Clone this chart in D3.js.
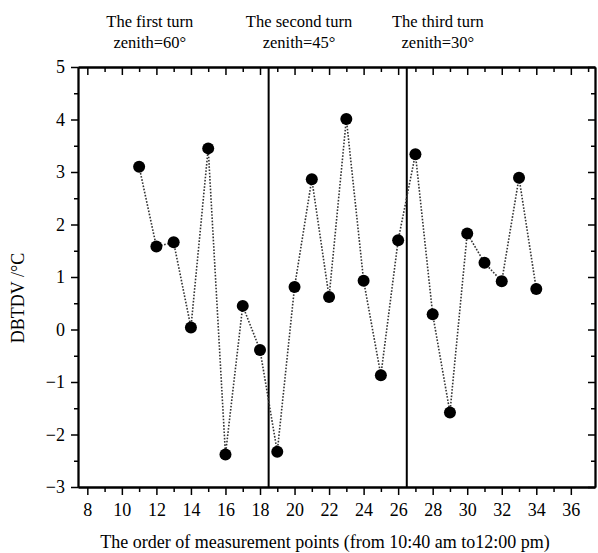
<!DOCTYPE html>
<html>
<head>
<meta charset="utf-8">
<script src="https://cdn.jsdelivr.net/npm/d3@7"></script>
<style>
  body { margin: 0; background: #fff; }
  svg { font-family: "Liberation Serif", "Times New Roman", serif; }
</style>
</head>
<body>
<script>
const order = [11, 12, 13, 14, 15, 16, 17, 18, 19, 20, 21, 22, 23, 24, 25, 26, 27, 28, 29, 30, 31, 32, 33, 34];
const dbtdv = [3.10, 1.58, 1.66, 0.04, 3.45, -2.38, 0.45, -0.39, -2.33, 0.81, 2.86, 0.62, 4.01, 0.93, -0.87, 1.70, 3.34, 0.29, -1.58, 1.83, 1.27, 0.92, 2.89, 0.77];

// Turn separators and headers
const separators = [18.5, 26.5];
const turnTitles = ["The first turn", "The second turn", "The third turn"];
const turnZenith = ["zenith=60°", "zenith=45°", "zenith=30°"];
const turnCenters = [11.62, 20.26, 28.3];

const xTicks = d3.range(8, 37, 2);
const yTicks = d3.range(-3, 6, 1);

const width = 598, height = 553;
const margin = { top: 67, right: 3, bottom: 66, left: 78 };
const serif = "Liberation Serif, serif";

const svg = d3.select("body").append("svg")
  .attr("width", width)
  .attr("height", height);

const x = d3.scaleLinear().domain([7.46, 37.4]).range([margin.left, width - margin.right]);
const y = d3.scaleLinear().domain([-3, 5]).range([height - margin.bottom, margin.top]);

const g = svg.append("g");

// Bottom axis: major ticks labelled, minor ticks at odd values
const axBottom = g.append("g").attr("transform", `translate(0,${y(-3)})`);
axBottom.call(d3.axisBottom(x).tickValues(xTicks).tickSize(8).tickPadding(8).tickSizeOuter(0));
axBottom.append("g").call(d3.axisBottom(x).tickValues(d3.range(9, 37, 2)).tickSize(5).tickFormat("").tickSizeOuter(0));

// Top axis, ticks pointing down into the plot
const axTop = g.append("g").attr("transform", `translate(0,${y(5)})`);
axTop.call(d3.axisBottom(x).tickValues(xTicks).tickSize(8).tickFormat("").tickSizeOuter(0));
axTop.append("g").call(d3.axisBottom(x).tickValues(d3.range(9, 38, 2)).tickSize(5).tickFormat("").tickSizeOuter(0));

// Left axis, ticks outward
const axLeft = g.append("g").attr("transform", `translate(${x.range()[0]},0)`);
axLeft.call(d3.axisLeft(y).tickValues(yTicks).tickSize(7).tickPadding(6).tickSizeOuter(0)
  .tickFormat(d => d < 0 ? "\u2212" + Math.abs(d) : d));
axLeft.append("g").call(d3.axisLeft(y).tickValues(d3.range(-2.5, 5, 1)).tickSize(4).tickFormat("").tickSizeOuter(0));

// Right axis, ticks pointing inward
const axRight = g.append("g").attr("transform", `translate(${x.range()[1]},0)`);
axRight.call(d3.axisLeft(y).tickValues(yTicks).tickSize(7).tickFormat("").tickSizeOuter(0));
axRight.append("g").call(d3.axisLeft(y).tickValues(d3.range(-2.5, 5, 1)).tickSize(4).tickFormat("").tickSizeOuter(0));

g.selectAll(".domain").attr("stroke", "#000").attr("stroke-width", 1.8);
g.selectAll(".tick line").attr("stroke", "#000").attr("stroke-width", 1.5);
g.selectAll(".tick text")
  .attr("font-family", serif)
  .attr("font-size", 18)
  .attr("fill", "#000");

// Separators between turns
g.selectAll(".sep")
  .data(separators)
  .enter()
  .append("line")
  .attr("class", "sep")
  .attr("x1", d => x(d)).attr("x2", d => x(d))
  .attr("y1", y(5)).attr("y2", y(-3))
  .attr("stroke", "#000")
  .attr("stroke-width", 2);

// Dotted connecting line
const line = d3.line()
  .x((d, i) => x(order[i]))
  .y(d => y(d));

g.append("path")
  .datum(dbtdv)
  .attr("fill", "none")
  .attr("stroke", "#333")
  .attr("stroke-width", 1.6)
  .attr("stroke-dasharray", "1.6,1.6")
  .attr("d", line);

// Markers
g.selectAll(".pt")
  .data(dbtdv)
  .enter()
  .append("circle")
  .attr("class", "pt")
  .attr("cx", (d, i) => x(order[i]))
  .attr("cy", d => y(d))
  .attr("r", 6)
  .attr("fill", "#000");

// Turn headers
turnTitles.forEach((t, i) => {
  svg.append("text")
    .attr("x", x(turnCenters[i]))
    .attr("y", 27)
    .attr("text-anchor", "middle")
    .attr("font-family", serif)
    .attr("font-size", 16.5)
    .text(t);
  svg.append("text")
    .attr("x", x(turnCenters[i]))
    .attr("y", 48)
    .attr("text-anchor", "middle")
    .attr("font-family", serif)
    .attr("font-size", 16.5)
    .text(turnZenith[i]);
});

// Axis titles
svg.append("text")
  .attr("x", 325)
  .attr("y", 548)
  .attr("text-anchor", "middle")
  .attr("font-family", serif)
  .attr("font-size", 18)
  .text("The order of measurement points (from 10:40 am to12:00 pm)");

svg.append("text")
  .attr("transform", "translate(24,298) rotate(-90)")
  .attr("text-anchor", "middle")
  .attr("font-family", serif)
  .attr("font-size", 18)
  .text("DBTDV /°C");
</script>
</body>
</html>
